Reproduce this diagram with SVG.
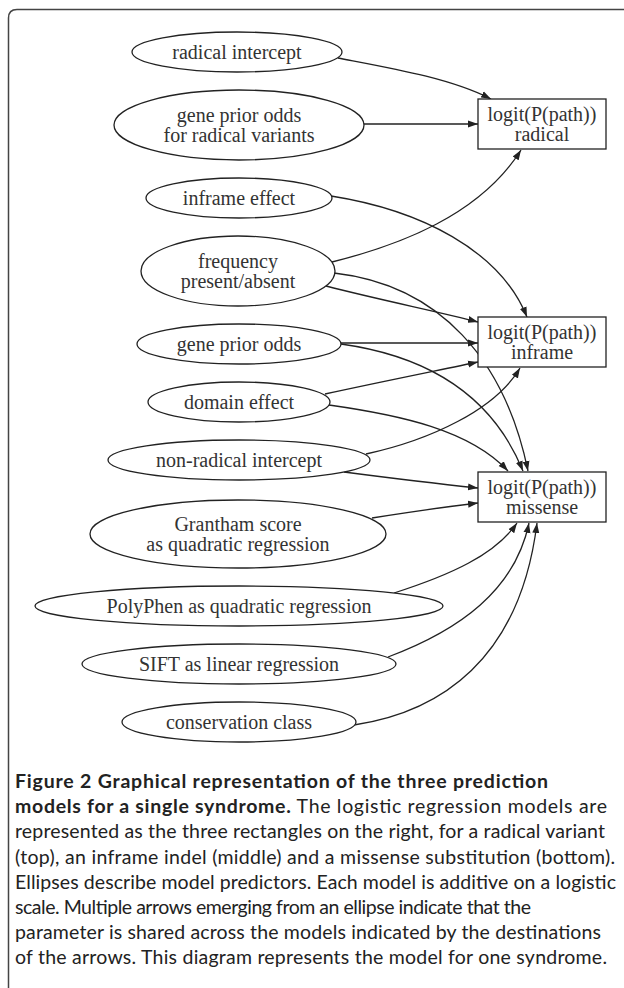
<svg xmlns="http://www.w3.org/2000/svg" width="624" height="988" viewBox="0 0 624 988">
<style>
.n ellipse, .n rect { fill: #fff; stroke: #222; stroke-width: 1.3; }
.t { font-family: "Liberation Serif", "Times New Roman", serif; font-size: 20px; fill: #333; text-anchor: middle; }
.e path { fill: none; stroke: #222; stroke-width: 1.3; marker-end: url(#ah); }
.cap { font-family: Lato, "Open Sans", sans-serif; font-size: 19.5px; fill: #222; }
.b { font-weight: bold; }
</style>
<defs>
<marker id="ah" markerUnits="userSpaceOnUse" markerWidth="11" markerHeight="8" refX="10" refY="4" orient="auto" viewBox="0 0 11 8">
<path d="M0,0.5 L10,4 L0,7.5 Z" fill="#222"/>
</marker>
</defs>
<rect width="624" height="988" fill="#fff"/>
<path d="M8.5,988 V18 Q8.5,9.5 17,9.5 H624" fill="none" stroke="#444" stroke-width="1.5"/>

<g id="edges" class="e">
<path d="M338,58 C390,68 450,78 491,99"/>
<path d="M364,124 L478,124"/>
<path d="M332,262 C400,245 480,215 521,150"/>
<path d="M331,196 C420,210 500,250 527,317"/>
<path d="M326,286 C380,300 440,312 478,322"/>
<path d="M334,273 C440,285 505,360 528,471"/>
<path d="M341,343 L478,343"/>
<path d="M341,344 C420,355 490,390 523,471"/>
<path d="M325,394 C380,382 440,370 478,362"/>
<path d="M329,405 C400,415 470,430 508,471"/>
<path d="M366,454 C430,440 495,410 520,368"/>
<path d="M344,472 C390,478 440,484 478,488"/>
<path d="M372,518 C410,512 445,507 478,503"/>
<path d="M394,593 C450,575 495,555 517,523"/>
<path d="M388,657 C460,630 515,590 529,523"/>
<path d="M354,725 C440,712 520,660 537,523"/>
</g>

<g id="radical-intercept" class="n"><ellipse cx="237" cy="52" rx="105" ry="20"/><text class="t" x="237" y="59">radical intercept</text></g>
<g id="gene-prior-radical" class="n"><ellipse cx="239" cy="125" rx="125" ry="35"/><text class="t" x="239" y="122">gene prior odds</text><text class="t" x="239" y="142">for radical variants</text></g>
<g id="inframe-effect" class="n"><ellipse cx="239" cy="198" rx="93" ry="20"/><text class="t" x="239" y="205">inframe effect</text></g>
<g id="frequency" class="n"><ellipse cx="238" cy="271" rx="97" ry="35"/><text class="t" x="238" y="268">frequency</text><text class="t" x="238" y="288">present/absent</text></g>
<g id="gene-prior" class="n"><ellipse cx="239" cy="344" rx="102" ry="20"/><text class="t" x="239" y="351">gene prior odds</text></g>
<g id="domain-effect" class="n"><ellipse cx="239" cy="402" rx="91" ry="20"/><text class="t" x="239" y="409">domain effect</text></g>
<g id="non-radical-intercept" class="n"><ellipse cx="239" cy="460" rx="131" ry="20"/><text class="t" x="239" y="467">non-radical intercept</text></g>
<g id="grantham" class="n"><ellipse cx="238" cy="534" rx="148" ry="34"/><text class="t" x="238" y="531">Grantham score</text><text class="t" x="238" y="551">as quadratic regression</text></g>
<g id="polyphen" class="n"><ellipse cx="239" cy="606" rx="204" ry="20"/><text class="t" x="239" y="613">PolyPhen as quadratic regression</text></g>
<g id="sift" class="n"><ellipse cx="239" cy="664" rx="157" ry="20"/><text class="t" x="239" y="671">SIFT as linear regression</text></g>
<g id="conservation" class="n"><ellipse cx="239" cy="722" rx="117" ry="20"/><text class="t" x="239" y="729">conservation class</text></g>

<g id="box-radical" class="n"><rect x="478" y="99" width="128" height="50"/><text class="t" x="542" y="121">logit(P(path))</text><text class="t" x="542" y="141">radical</text></g>
<g id="box-inframe" class="n"><rect x="478" y="317" width="128" height="50"/><text class="t" x="542" y="339">logit(P(path))</text><text class="t" x="542" y="359">inframe</text></g>
<g id="box-missense" class="n"><rect x="478" y="472" width="128" height="50"/><text class="t" x="542" y="494">logit(P(path))</text><text class="t" x="542" y="514">missense</text></g>

<g id="caption" class="cap">
<text x="15" y="788" class="b" textLength="533" lengthAdjust="spacing">Figure 2 Graphical representation of the three prediction</text>
<text x="15" y="813" textLength="592" lengthAdjust="spacing"><tspan class="b">models for a single syndrome.</tspan> The logistic regression models are</text>
<text x="15" y="838" textLength="590" lengthAdjust="spacing">represented as the three rectangles on the right, for a radical variant</text>
<text x="15" y="863.5" textLength="600" lengthAdjust="spacing">(top), an inframe indel (middle) and a missense substitution (bottom).</text>
<text x="15" y="889" textLength="601" lengthAdjust="spacing">Ellipses describe model predictors. Each model is additive on a logistic</text>
<text x="15" y="914" textLength="516" lengthAdjust="spacing">scale. Multiple arrows emerging from an ellipse indicate that the</text>
<text x="15" y="939" textLength="586" lengthAdjust="spacing">parameter is shared across the models indicated by the destinations</text>
<text x="15" y="964" textLength="592" lengthAdjust="spacing">of the arrows. This diagram represents the model for one syndrome.</text>
</g>
</svg>
